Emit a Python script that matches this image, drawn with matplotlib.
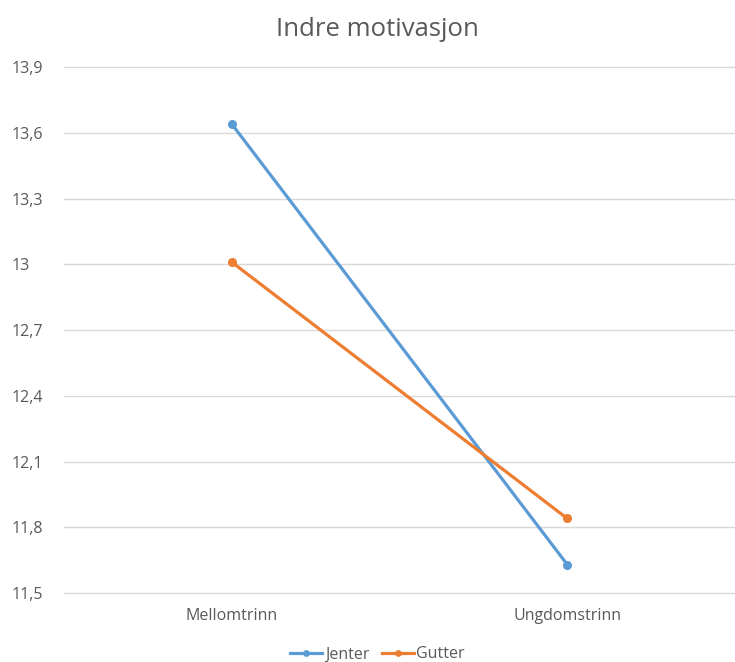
import matplotlib.pyplot as plt
from matplotlib.ticker import FuncFormatter

plt.rcParams['font.family'] = ['Open Sans', 'DejaVu Sans']

categories = ["Mellomtrinn", "Ungdomstrinn"]
jenter = [13.64, 11.63]
gutter = [13.01, 11.84]
y_ticks = [11.5, 11.8, 12.1, 12.4, 12.7, 13.0, 13.3, 13.6, 13.9]

text_color = "#595959"
grid_color = "#D9D9D9"

fig = plt.figure(figsize=(7.35, 6.62), dpi=100)
ax = fig.add_axes([0.087, 0.1042, 0.913, 0.7946])

x = range(len(categories))
ax.plot(x, jenter, color="#5B9BD5", lw=2.3, marker="o", ms=5.5, label="Jenter")
ax.plot(x, gutter, color="#ED7D31", lw=2.3, marker="o", ms=5.5, label="Gutter")

ax.set_xlim(-0.5, 1.5)
ax.set_ylim(11.5, 13.9)
ax.set_yticks(y_ticks)
ax.yaxis.set_major_formatter(FuncFormatter(
    lambda v, _: f"{v:.1f}".replace(".", ",").replace(",0", "")))
ax.set_xticks(list(x))
ax.set_xticklabels(categories)

ax.grid(axis="y", color=grid_color, lw=1)
for gl in ax.get_ygridlines():
    gl.set_clip_on(False)
ax.set_axisbelow(True)
for s in ax.spines.values():
    s.set_visible(False)
ax.tick_params(length=0, colors=text_color, labelsize=11.5)
ax.tick_params(axis="y", pad=37.4)
ax.tick_params(axis="x", pad=11)
for lbl in ax.get_yticklabels():
    lbl.set_horizontalalignment("left")

fig.text(0.514, 0.955, "Indre motivasjon", ha="center", va="center",
         fontsize=18.5, color=text_color)

fig.legend(loc="center", bbox_to_anchor=(0.514, 0.0115), ncol=2, frameon=False,
           fontsize=11.5, labelcolor=text_color, handlelength=2.0,
           handletextpad=0.15, columnspacing=0.8, markerscale=0.7,
           borderpad=0)

fig.savefig("out.png", dpi=100, facecolor="white")
